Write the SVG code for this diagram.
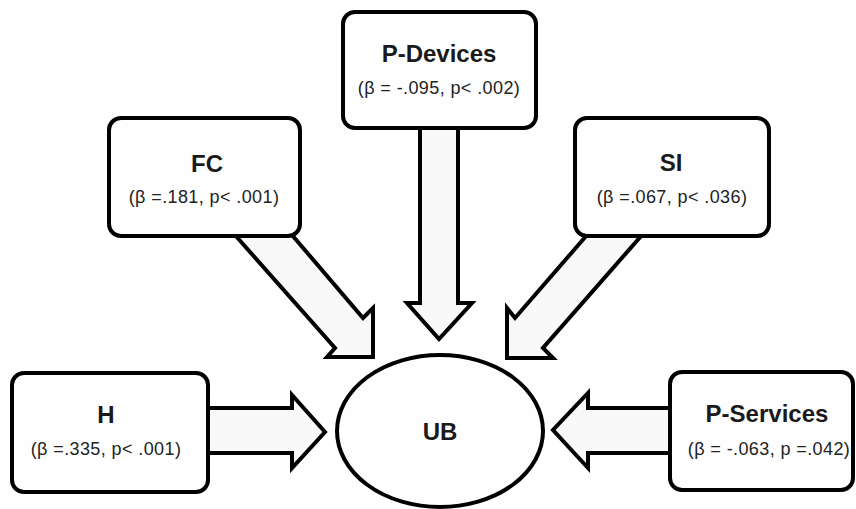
<svg xmlns="http://www.w3.org/2000/svg" width="856" height="509" viewBox="0 0 856 509">
<style>
.box{fill:#fefefe;stroke:#000;stroke-width:4}
.arr{fill:#f9f9f9;stroke:#000;stroke-width:4;stroke-linejoin:miter}
.t{font-family:"Liberation Sans",Arial,sans-serif;font-weight:bold;font-size:24px;text-anchor:middle;fill:#1a1a1a}
.s{font-family:"Liberation Sans",Arial,sans-serif;font-size:18px;letter-spacing:0.4px;text-anchor:middle;fill:#222}
</style>
<rect width="856" height="509" fill="#fff"/>
<g id="connectors">
<polygon class="arr" points="420,126 458,126 458,303 472,303 439,339 407,303 420,303"/>
<polygon class="arr" points="235,235 335,348 327,357 373,357 373,308 363,318 292,235"/>
<polygon class="arr" points="587,235 515,318 507,308 507,358 553,358 543,348 642,235"/>
<polygon class="arr" points="206,408 292,408 292,395 325,432 292,468 292,453 206,453"/>
<polygon class="arr" points="672,408 588,408 588,393 553,430 588,468 588,453 672,453"/>
</g>
<g id="node-pdevices">
<rect class="box" x="343" y="12" width="193" height="116" rx="12"/>
<text class="t" x="439" y="62">P-Devices</text>
<text class="s" x="439" y="94">(β = -.095, p&lt; .002)</text>
</g>
<g id="node-fc">
<rect class="box" x="109" y="118" width="191" height="118" rx="12"/>
<text class="t" x="207" y="172">FC</text>
<text class="s" x="204" y="203">(β =.181, p&lt; .001)</text>
</g>
<g id="node-si">
<rect class="box" x="575" y="118" width="194" height="118" rx="12"/>
<text class="t" x="671" y="171">SI</text>
<text class="s" x="672" y="203">(β =.067, p&lt; .036)</text>
</g>
<g id="node-h">
<rect class="box" x="12" y="373" width="196" height="119" rx="12"/>
<text class="t" x="106" y="423">H</text>
<text class="s" x="106" y="455">(β =.335, p&lt; .001)</text>
</g>
<g id="node-pservices">
<rect class="box" x="670" y="372" width="183" height="118" rx="12"/>
<text class="t" x="767" y="422">P-Services</text>
<text class="s" x="769" y="455">(β = -.063, p =.042)</text>
</g>
<g id="node-ub">
<ellipse class="box" cx="440" cy="431" rx="103" ry="76"/>
<text class="t" x="440" y="440">UB</text>
</g>
</svg>
